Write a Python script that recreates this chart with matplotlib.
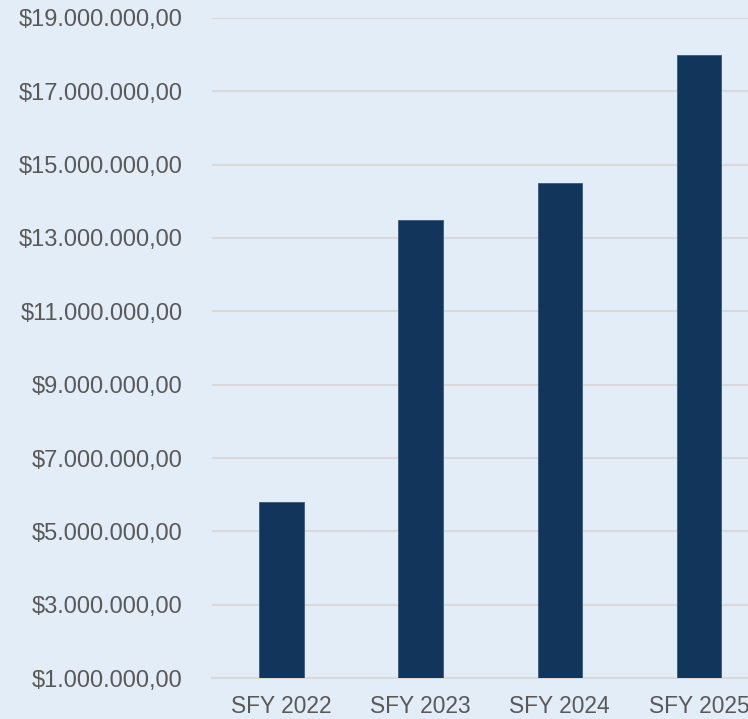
import matplotlib.pyplot as plt
from matplotlib.ticker import FuncFormatter

categories = ['SFY 2022', 'SFY 2023', 'SFY 2024', 'SFY 2025']
values = [5800000, 13500000, 14500000, 18000000]
y_ticks = [1000000, 3000000, 5000000, 7000000, 9000000, 11000000,
           13000000, 15000000, 17000000, 19000000]

BG = '#E2EDF8'
BAR = '#12355B'
TEXT = '#595959'
GRID = '#D9D9D9'


def money(v, pos=None):
    # european style separators: $19.000.000,00
    s = f'{v:,.2f}'
    s = s.replace(',', 'X').replace('.', ',').replace('X', '.')
    return '$' + s


plt.rcParams['font.family'] = ['Liberation Sans', 'DejaVu Sans']

fig = plt.figure(figsize=(7.48, 7.19), dpi=100)
fig.patch.set_facecolor(BG)
# axes run past the right edge, the source image is cropped there
ax = fig.add_axes([0.2834, 0.057, 0.744, 0.918])
ax.set_facecolor(BG)

x = range(len(categories))
ax.bar(x, values, width=0.32, color=BAR, edgecolor='#3A5A7C', linewidth=0.6, zorder=3)

ax.set_xlim(-0.5, len(categories) - 0.5)
ax.set_ylim(y_ticks[0], y_ticks[-1])
ax.set_yticks(y_ticks)
ax.yaxis.set_major_formatter(FuncFormatter(money))
ax.set_xticks(list(x))
ax.set_xticklabels(categories)

ax.grid(axis='y', color=GRID, linewidth=1.5, zorder=0)
ax.tick_params(axis='y', length=0, pad=21, labelsize=17, labelcolor=TEXT)
ax.tick_params(axis='x', length=0, pad=12, labelsize=16.4, labelcolor=TEXT)
for side in ['top', 'right', 'left']:
    ax.spines[side].set_visible(False)
ax.spines['bottom'].set_color(GRID)
ax.spines['bottom'].set_linewidth(1.5)

fig.savefig('out.png', dpi=100, facecolor=BG)
